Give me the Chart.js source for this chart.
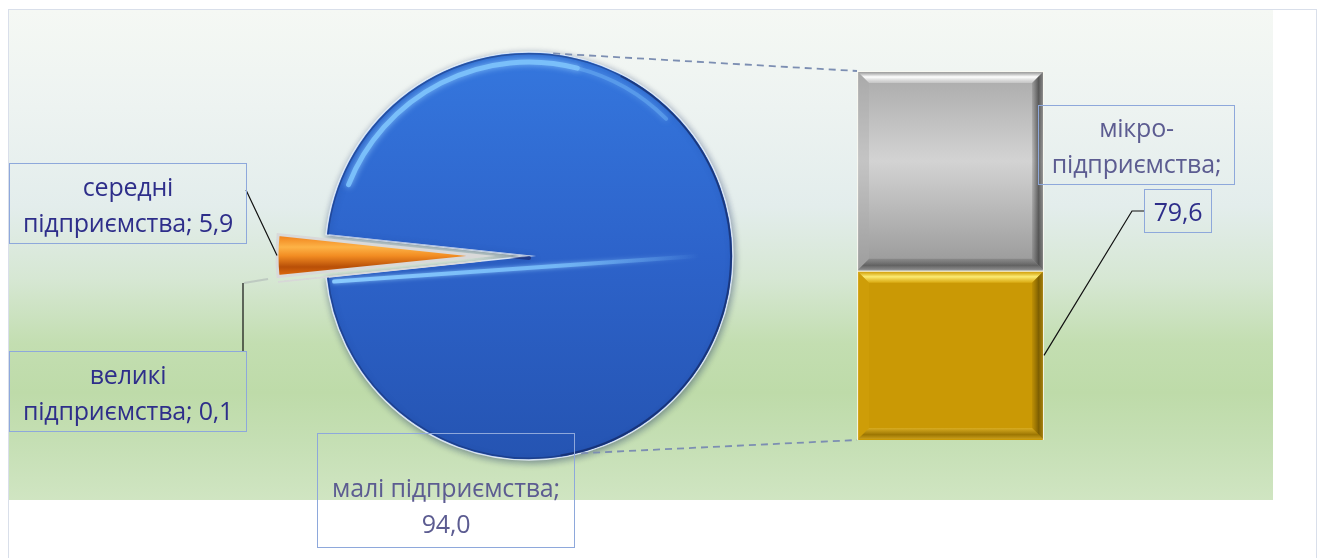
<!DOCTYPE html>
<html>
<head>
<meta charset="utf-8">
<script src="https://cdn.jsdelivr.net/npm/chart.js@4.4.1/dist/chart.umd.min.js"></script>
<style>
  html, body { margin: 0; padding: 0; background: #ffffff; }
  #wrap { position: relative; width: 1325px; height: 558px; overflow: hidden; background: #fff; font-family: "Open Sans", "Noto Sans", sans-serif; }
  #frame { position: absolute; left: 8px; top: 9px; width: 1309px; height: 560px; border: 1px solid #D9DFEA; box-sizing: border-box; }
  #plot { position: absolute; left: 9px; top: 10px; width: 1264px; height: 490px;
    background: linear-gradient(to bottom, #F5F8F4 0%, #EDF3F1 20%, #E3EDEC 40%, #D6E7D3 55%, #C3DEB1 68%, #BEDBA9 78%, #C5DFB4 88%, #D0E5C2 100%); }
  canvas { position: absolute; left: 0; top: 0; }
  .lbl { position: absolute; box-sizing: border-box; border: 1.5px solid #8EA8DB; display: flex; flex-direction: column; align-items: center; justify-content: center; font-size: 25px; line-height: 36px; white-space: nowrap; letter-spacing: -0.2px; }
  .dark { color: #2E2E8A; }
  .light { color: #5C5C91; }
</style>
</head>
<body>
<div id="wrap">
  <div id="frame"></div>
  <div id="plot"></div>
  <canvas id="pie" width="1325" height="558"></canvas>
  <canvas id="bar" width="1325" height="558"></canvas>
  <div class="lbl dark" style="left:9px;top:163px;width:238px;height:81px;"><span>середні</span><span>підприємства; 5,9</span></div>
  <div class="lbl dark" style="left:9px;top:351px;width:238px;height:81px;"><span>великі</span><span>підприємства; 0,1</span></div>
  <div class="lbl light" style="left:317px;top:433px;width:258px;height:115px;justify-content:flex-end;padding-bottom:6px;"><span>малі підприємства;</span><span>94,0</span></div>
  <div class="lbl light" style="left:1038px;top:105px;width:197px;height:80px;"><span>мікро-</span><span>підприємства;</span></div>
  <div class="lbl dark" style="left:1144px;top:189px;width:68px;height:44px;"><span>79,6</span></div>
</div>
<script>
// ---- data ----
const pieCategories = ['малі підприємства', 'великі підприємства', 'середні підприємства'];
const pieOwnValues = [0.1, 5.9];            // великі, середні (own slices)
const barCategories = ['мікро-підприємства', 'малі підприємства'];
const barValues = [79.6, 94.0];             // stacked bar (bottom, top)
// the blue slice of the pie is the sum of the split-off bar
const otherValue = barValues.reduce((a, b) => a + b, 0);
const pieValues = [otherValue].concat(pieOwnValues);
const pieTotal = pieValues.reduce((a, b) => a + b, 0);

// ---- style ----
const PIE_R = 204;
const EXPLODE = [0, 48, 48];
const otherSweep = otherValue / pieTotal * 360;

function pieFill(ctx) {
  const i = ctx.dataIndex;
  const ca = ctx.chart.chartArea;
  const ok = ca && isFinite(ca.top) && isFinite(ca.bottom) && ca.bottom > ca.top;
  if (i === 1) return '#C8C8C8';
  if (i === 0) {
    if (!ok) return '#2E63C9';
    const cy = (ca.top + ca.bottom) / 2;
    const g = ctx.chart.ctx.createLinearGradient(0, cy - PIE_R, 0, cy + PIE_R);
    g.addColorStop(0, '#3577DE');
    g.addColorStop(0.5, '#2D63CA');
    g.addColorStop(1, '#2554B2');
    return g;
  }
  if (!ok) return '#E8730E';
  const cy = (ca.top + ca.bottom) / 2;
  const g = ctx.chart.ctx.createLinearGradient(0, cy - 22, 0, cy + 22);
  g.addColorStop(0, '#EE7A14');
  g.addColorStop(0.3, '#FDB347');
  g.addColorStop(0.5, '#F28C22');
  g.addColorStop(0.75, '#B84F08');
  g.addColorStop(1, '#E8700E');
  return g;
}

const piePlugin = {
  id: 'pieExplode',
  beforeDatasetDraw(chart, args) {
    const c = chart.ctx;
    args.meta.data.forEach((arc, i) => {
      const d = EXPLODE[i] || 0;
      const mid = (arc.startAngle + arc.endAngle) / 2;
      c.save();
      c.translate(Math.cos(mid) * d, Math.sin(mid) * d);
      if (i === 0) {
        c.shadowColor = 'rgba(20,40,90,0.45)';
        c.shadowBlur = 7;
        c.shadowOffsetX = 1;
        c.shadowOffsetY = 2;
      }
      arc.draw(c);
      c.restore();
    });
    return false;
  },
  afterDatasetsDraw(chart) {
    const c = chart.ctx;
    const arc = chart.getDatasetMeta(0).data[0];
    const { x, y, outerRadius: r, startAngle, endAngle } = arc;
    c.save();
    c.beginPath();
    c.moveTo(x, y);
    c.arc(x, y, r - 1, startAngle, endAngle);
    c.closePath();
    c.clip();
    // dark rim, stronger on the right side
    c.lineWidth = 3;
    c.strokeStyle = 'rgba(22,45,110,0.5)';
    c.beginPath(); c.arc(x, y, r - 1, startAngle, endAngle); c.stroke();
    c.lineWidth = 4;
    c.strokeStyle = 'rgba(20,40,100,0.55)';
    c.beginPath(); c.arc(x, y, r - 1, -Math.PI * 0.35, Math.PI * 0.45); c.stroke();
    // top highlight bevel
    c.lineCap = 'round';
    c.shadowColor = 'rgba(150,210,255,0.9)';
    c.shadowBlur = 6;
    c.strokeStyle = 'rgba(125,195,252,0.9)';
    c.lineWidth = 5;
    c.beginPath(); c.arc(x, y, r - 10, Math.PI * 1.12, Math.PI * 1.58); c.stroke();
    c.strokeStyle = 'rgba(120,190,250,0.4)';
    c.lineWidth = 4;
    c.beginPath(); c.arc(x, y, r - 10, Math.PI * 1.58, Math.PI * 1.75); c.stroke();
    // dark line along upper slit edge
    c.shadowBlur = 0;
    c.strokeStyle = 'rgba(25,45,120,0.75)';
    c.lineWidth = 4;
    c.beginPath();
    c.moveTo(x + Math.cos(startAngle) * r, y + Math.sin(startAngle) * r + 2);
    c.lineTo(x, y + 2);
    c.stroke();
    // light highlight along lower slit edge
    const ex = x + Math.cos(endAngle) * (r - 8), ey = y + Math.sin(endAngle) * (r - 8);
    const hg = c.createLinearGradient(ex, ey, x + 170, y);
    hg.addColorStop(0, 'rgba(140,205,255,0.95)');
    hg.addColorStop(0.6, 'rgba(120,190,250,0.85)');
    hg.addColorStop(1, 'rgba(120,190,250,0)');
    c.strokeStyle = hg;
    c.lineWidth = 4;
    c.shadowColor = 'rgba(150,210,255,0.8)';
    c.shadowBlur = 4;
    c.beginPath();
    c.moveTo(ex, ey + 5);
    c.lineTo(x + 170, y);
    c.stroke();
    c.restore();
  }
};

const pieChart = new Chart(document.getElementById('pie'), {
  type: 'pie',
  data: {
    labels: pieCategories,
    datasets: [{
      data: pieValues,
      backgroundColor: pieFill,
      borderColor: ['rgba(230,238,248,0.9)', '#D8D8D8', '#D9D9D9'],
      borderWidth: [1.5, 1, 3],
      borderJoinStyle: 'miter'
    }]
  },
  options: {
    responsive: false,
    animation: false,
    radius: PIE_R,
    rotation: 90 - otherSweep / 2,
    layout: { padding: { left: 279, right: 546, top: 6, bottom: 52 } },
    plugins: { legend: { display: false }, tooltip: { enabled: false } },
    events: []
  },
  plugins: [piePlugin]
});

function grayFill(ctx) {
  const ys = ctx.chart.scales && ctx.chart.scales.y;
  if (!ys) return '#B8B8B8';
  const top = ys.getPixelForValue(otherValue), bot = ys.getPixelForValue(barValues[0]);
  if (!isFinite(top) || !isFinite(bot) || bot <= top) return '#B8B8B8';
  const g = ctx.chart.ctx.createLinearGradient(0, top, 0, bot);
  g.addColorStop(0, '#A9A9A9');
  g.addColorStop(0.45, '#D3D3D3');
  g.addColorStop(1, '#979797');
  return g;
}

const barPlugin = {
  id: 'barDecor',
  afterDatasetsDraw(chart) {
    const c = chart.ctx;
    const b = 11;
    chart.data.datasets.forEach((ds, di) => {
      chart.getDatasetMeta(di).data.forEach(el => {
        const p = el.getProps(['x', 'y', 'base', 'width'], true);
        const L = p.x - p.width / 2 + 1, R = p.x + p.width / 2 - 1;
        const T = Math.min(p.y, p.base) + 1, B = Math.max(p.y, p.base) - 1;
        const gold = di === 0;
        const quad = (pts, fill) => {
          c.beginPath(); c.moveTo(pts[0][0], pts[0][1]);
          for (let k = 1; k < pts.length; k++) c.lineTo(pts[k][0], pts[k][1]);
          c.closePath(); c.fillStyle = fill; c.fill();
        };
        c.save();
        const tg = c.createLinearGradient(0, T, 0, T + b);
        if (gold) { tg.addColorStop(0, 'rgba(210,160,10,0.9)'); tg.addColorStop(0.45, 'rgba(255,240,120,0.95)'); tg.addColorStop(1, 'rgba(230,185,30,0.6)'); }
        else { tg.addColorStop(0, 'rgba(150,150,150,0.9)'); tg.addColorStop(0.45, 'rgba(255,255,255,1)'); tg.addColorStop(1, 'rgba(220,220,220,0.5)'); }
        quad([[L, T], [R, T], [R - b, T + b], [L + b, T + b]], tg);
        const rg = c.createLinearGradient(R - b, 0, R, 0);
        rg.addColorStop(0, gold ? 'rgba(120,90,0,0.15)' : 'rgba(60,60,60,0.15)');
        rg.addColorStop(0.6, gold ? 'rgba(100,75,0,0.75)' : 'rgba(50,50,50,0.7)');
        rg.addColorStop(1, gold ? 'rgba(140,110,10,0.6)' : 'rgba(90,90,90,0.5)');
        quad([[R, T], [R, B], [R - b, B - b], [R - b, T + b]], rg);
        const bg = c.createLinearGradient(0, B - b, 0, B);
        bg.addColorStop(0, gold ? 'rgba(230,190,60,0.5)' : 'rgba(90,90,90,0.3)');
        bg.addColorStop(0.6, gold ? 'rgba(120,90,0,0.55)' : 'rgba(60,60,60,0.6)');
        bg.addColorStop(1, gold ? 'rgba(200,160,40,0.6)' : 'rgba(120,120,120,0.5)');
        quad([[L, B], [R, B], [R - b, B - b], [L + b, B - b]], bg);
        quad([[L, T], [L, B], [L + b, B - b], [L + b, T + b]], gold ? 'rgba(215,165,15,0.35)' : 'rgba(170,170,170,0.35)');
        c.restore();
      });
    });

    // dashed connectors from the pie's blue slice to the stacked bar
    const arc = pieChart.getDatasetMeta(0).data[0];
    const topBar = chart.getDatasetMeta(1).data[0].getProps(['x', 'y', 'width'], true);
    const botBar = chart.getDatasetMeta(0).data[0].getProps(['x', 'base', 'width'], true);
    const a1 = -83.2 * Math.PI / 180, a2 = 75.2 * Math.PI / 180;
    c.save();
    c.setLineDash([7, 5]);
    c.lineWidth = 1.8;
    c.strokeStyle = '#7C8EB2';
    c.beginPath();
    c.moveTo(arc.x + Math.cos(a1) * arc.outerRadius, arc.y + Math.sin(a1) * arc.outerRadius);
    c.lineTo(topBar.x - topBar.width / 2, topBar.y);
    c.moveTo(arc.x + Math.cos(a2) * arc.outerRadius, arc.y + Math.sin(a2) * arc.outerRadius);
    c.lineTo(botBar.x - botBar.width / 2, botBar.base);
    c.stroke();
    c.restore();

    // leader lines for the data labels
    const orange = pieChart.getDatasetMeta(0).data[2];
    const om = (orange.startAngle + orange.endAngle) / 2;
    const ox = orange.x + Math.cos(om) * (EXPLODE[2] + orange.outerRadius);
    const oy = orange.y + Math.sin(om) * (EXPLODE[2] + orange.outerRadius);
    const goldEl = chart.getDatasetMeta(0).data[0].getProps(['x', 'y', 'base', 'width'], true);
    c.save();
    c.lineWidth = 1.2;
    c.strokeStyle = '#111';
    c.beginPath();
    c.moveTo(246, 190); c.lineTo(ox, oy);
    c.moveTo(243, 351); c.lineTo(243, 283);
    c.moveTo(1144, 211); c.lineTo(1132, 211);
    c.lineTo(goldEl.x + goldEl.width / 2, (goldEl.y + goldEl.base) / 2);
    c.stroke();
    c.strokeStyle = 'rgba(180,190,185,0.7)';
    c.lineWidth = 2;
    c.beginPath(); c.moveTo(244, 283); c.lineTo(268, 279); c.stroke();
    c.restore();
  }
};

const barChart = new Chart(document.getElementById('bar'), {
  type: 'bar',
  data: {
    labels: [''],
    datasets: [
      { label: barCategories[0], data: [barValues[0]], backgroundColor: '#CA9905', borderColor: 'rgba(248,244,225,0.95)', borderWidth: 1.5, barPercentage: 1, categoryPercentage: 1 },
      { label: barCategories[1], data: [barValues[1]], backgroundColor: grayFill, borderColor: 'rgba(248,248,240,0.95)', borderWidth: 1.5, barPercentage: 1, categoryPercentage: 1 }
    ]
  },
  options: {
    responsive: false,
    animation: false,
    layout: { padding: { left: 857, right: 281, top: 71, bottom: 118 } },
    scales: {
      x: { stacked: true, display: false },
      y: { stacked: true, display: false, min: 0, max: otherValue }
    },
    plugins: { legend: { display: false }, tooltip: { enabled: false } },
    events: []
  },
  plugins: [barPlugin]
});
</script>
</body>
</html>
